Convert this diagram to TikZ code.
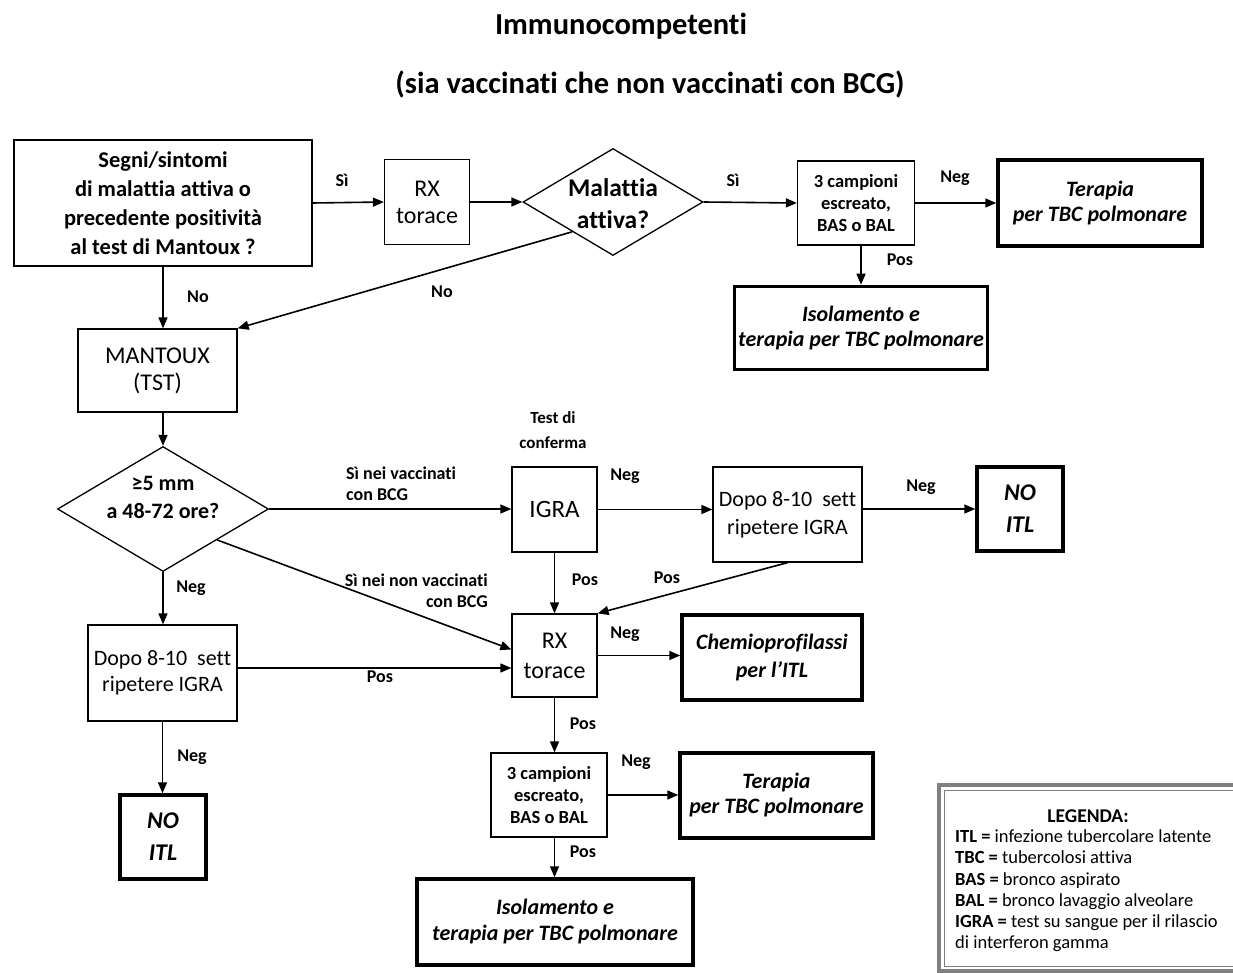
\documentclass[tikz,border=0pt]{standalone}
\usepackage{fontspec}
\setmainfont{Carlito}[Ligatures=NoCommon]
\usetikzlibrary{arrows.meta,shapes.geometric,calc}
\newcommand\fsz[2]{\fontsize{#1}{#2}\selectfont}
\begin{document}
\begin{tikzpicture}[x=1pt,y=-1pt,
 box/.style={draw, line width=1.3pt, inner sep=0pt, align=center},
 endbox/.style={draw, line width=3.5pt, inner sep=0pt, align=center, font=\bfseries\itshape\fsz{22}{25}},
 dia/.style={draw, diamond, line width=1.3pt, inner sep=0pt},
 diatext/.style={inner sep=0pt, align=center},
 arr/.style={line width=1.6pt, -{Triangle[length=11pt,width=9pt]}},
 lab/.style={font=\bfseries\fsz{18}{21}, inner sep=0pt, align=center},
 legl/.style={anchor=base west, inner sep=0pt, font=\fsz{18.5}{22}},
]
\useasboundingbox (0,0) rectangle (1233,973);
\clip (0,0) rectangle (1233,973);

% title
\node[anchor=base, font=\bfseries\fsz{30.5}{36}] (t1) at (621,35) {Immunocompetenti};
\node[anchor=base, font=\bfseries\fsz{30.5}{36}] (t2) at (650,94) {(sia vaccinati che non vaccinati con BCG)};

% nodes
\node[box, minimum width=298pt, minimum height=126pt, font=\bfseries\fsz{22.5}{29}] (A) at (163,203) {Segni/sintomi\\di malattia attiva o\\precedente positività\\al test di Mantoux ?};
\node[box, minimum width=85pt, minimum height=85pt, font=\fsz{24}{27}] (RX1) at (427,202) {RX\\torace};
\node[dia, minimum width=180pt, minimum height=107pt] (D1) at (613,202) {};
\node[diatext, font=\bfseries\fsz{25.5}{32}] (D1t) at (613,204) {Malattia\\attiva?};
\node[box, minimum width=117pt, minimum height=84pt, font=\bfseries\fsz{18.5}{22}] (C1) at (856,203) {3 campioni\\escreato,\\BAS o BAL};
\node[endbox, minimum width=204pt, minimum height=86pt] (T1) at (1100,203) {Terapia\\per TBC polmonare};
\node[endbox, minimum width=253pt, minimum height=83pt] (I1) at (861,328) {Isolamento e\\terapia per TBC polmonare};
\node[box, minimum width=159pt, minimum height=83pt, font=\fsz{24}{27}] (M) at (157.5,370.5) {MANTOUX\\(TST)};
\node[dia, minimum width=211pt, minimum height=125pt] (D2) at (163,509) {};
\node[diatext, font=\bfseries\fsz{22}{28}] (D2t) at (163,497) {≥5 mm\\a 48-72 ore?};
\node[box, minimum width=85pt, minimum height=85pt, font=\fsz{25}{28}] (IG) at (554.5,509.5) {IGRA};
\node[box, minimum width=149pt, minimum height=95pt, font=\fsz{22}{28}] (DP1) at (787.5,514.5) {Dopo 8-10\ \ sett\\ripetere IGRA};
\node[endbox, minimum width=86pt, minimum height=84pt, font=\bfseries\itshape\fsz{24}{32}] (N1) at (1020,509) {NO\\ITL};
\node[box, minimum width=85pt, minimum height=83pt, font=\fsz{24}{30}] (RX2) at (554.5,655.5) {RX\\torace};
\node[endbox, minimum width=180pt, minimum height=85pt, font=\bfseries\itshape\fsz{22}{28}] (CH) at (772,657.5) {Chemioprofilassi\\per l’ITL};
\node[box, minimum width=149pt, minimum height=96pt, font=\fsz{22}{26}] (DP2) at (162.5,673) {Dopo 8-10\ \ sett\\ripetere IGRA};
\node[endbox, minimum width=86pt, minimum height=84pt, font=\bfseries\itshape\fsz{24}{32}] (N2) at (163,837) {NO\\ITL};
\node[box, minimum width=116pt, minimum height=84pt, font=\bfseries\fsz{18.5}{22}] (C2) at (549,795) {3 campioni\\escreato,\\BAS o BAL};
\node[endbox, minimum width=193pt, minimum height=85pt] (T2) at (776.5,795.5) {Terapia\\per TBC polmonare};
\node[endbox, minimum width=276pt, minimum height=86pt, font=\bfseries\itshape\fsz{22}{26}] (I2) at (555,922) {Isolamento e\\terapia per TBC polmonare};

% connectors
\draw[arr] (A.east) -- (RX1.west);
\draw[arr] (RX1.east) -- (D1.west);
\draw[arr] (D1.east) -- (C1.west);
\draw[arr] (C1.east) -- (T1.west);
\draw[arr] (C1.south -| I1.north) -- (I1.north);
\draw[arr] (A.south) -- (A.south |- M.north);
\draw[arr] ($(D1.west)!0.55!(D1.south)$) -- (M.north east);
\draw[arr] (A.south |- M.south) -- (D2.north);
\draw[arr] (D2.east) -- (D2.east -| IG.west);
\draw[arr] ($(D2.east)!0.49!(D2.south)$) -- ([yshift=6pt]RX2.west);
\draw[arr] (D2.south) -- (D2.south |- DP2.north);
\draw[arr] (IG.east) -- (IG.east -| DP1.west);
\draw[arr] (DP1.east |- N1.west) -- (N1.west);
\draw[arr] (IG.south) -- (IG.south |- RX2.north);
\draw[arr] (DP1.south) -- (RX2.north east);
\draw[arr] (RX2.east) -- (RX2.east -| CH.west);
\draw[arr] ([yshift=5pt]DP2.east) -- ([yshift=5pt]DP2.east -| RX2.west);
\draw[arr] (DP2.south) -- (DP2.south |- N2.north);
\draw[arr] (RX2.south) -- (RX2.south |- C2.north);
\draw[arr] (C2.east) -- (C2.east -| T2.west);
\draw[arr] (C2.south -| RX2.south) -- (RX2.south |- I2.north);

% labels
\node[lab] (l1) at (342,180) {Sì};
\node[lab] (l2) at (733,180) {Sì};
\node[lab] (l3) at (955,178) {Neg};
\node[lab] (l4) at (900,260) {Pos};
\node[lab] (l5) at (198,297) {No};
\node[lab] (l6) at (442,292) {No};
\node[lab, font=\bfseries\fsz{17}{25}] (l7) at (553,430) {Test di\\conferma};
\node[lab, anchor=west, align=left] (l8) at (346,484) {Sì nei vaccinati\\con BCG};
\node[lab, anchor=east, align=right] (l9) at (488,591) {Sì nei non vaccinati\\con BCG};
\node[lab] (l10) at (191,588) {Neg};
\node[lab] (l11) at (625,476) {Neg};
\node[lab] (l12) at (921,487) {Neg};
\node[lab] (l13) at (585,580) {Pos};
\node[lab] (l14) at (667,578) {Pos};
\node[lab] (l15) at (625,634) {Neg};
\node[lab] (l16) at (380,677) {Pos};
\node[lab] (l17) at (192,757) {Neg};
\node[lab] (l18) at (583,724) {Pos};
\node[lab] (l19) at (636,762) {Neg};
\node[lab] (l20) at (583,852) {Pos};

% legend
\draw[gray, line width=4pt] (939,785) rectangle (1245,971);
\draw[gray, line width=1pt] (944,790) rectangle (1240,966);
\node[anchor=base, inner sep=0pt, font=\bfseries\fsz{19.5}{22}] (lg0) at (1088,822) {LEGENDA:};
\node[legl] (lg1) at (955,842) {\textbf{ITL =} infezione tubercolare latente};
\node[legl] (lg2) at (955,863) {\textbf{TBC =} tubercolosi attiva};
\node[legl] (lg3) at (955,885) {\textbf{BAS =} bronco aspirato};
\node[legl] (lg4) at (955,906) {\textbf{BAL =} bronco lavaggio alveolare};
\node[legl] (lg5) at (955,927) {\textbf{IGRA =} test su sangue per il rilascio};
\node[legl] (lg6) at (955,948) {di interferon gamma};
\end{tikzpicture}
\end{document}
